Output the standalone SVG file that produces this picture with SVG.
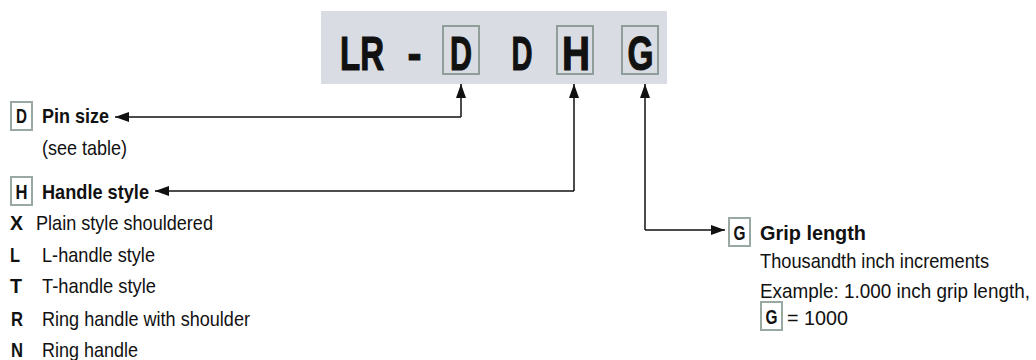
<svg xmlns="http://www.w3.org/2000/svg" width="1036" height="360" viewBox="0 0 1036 360">
<defs>
<style>
text{font-family:"Liberation Sans Narrow","Liberation Sans",Arial,sans-serif;fill:#111;}
.big{font-size:49px;font-weight:bold;stroke:#111;stroke-width:1.2;}
.b{font-size:21px;font-weight:bold;}
.r{font-size:21px;}
.box{fill:#fff;stroke:#9aa8a2;stroke-width:2;}
.bigbox{fill:none;stroke:#8f9e98;stroke-width:2;}
.wire{fill:none;stroke:#111;stroke-width:1.5;}
</style>
<marker id="ah" viewBox="0 0 14 10" refX="14" refY="5" markerWidth="14" markerHeight="10" markerUnits="userSpaceOnUse" orient="auto">
<path d="M0,0 L14,5 L0,10 Z" fill="#111"/>
</marker>
</defs>

<g id="code">
<rect x="321" y="11" width="346" height="73" fill="#d9dde3"/>
<rect class="bigbox" x="443" y="26" width="36" height="48"/>
<rect class="bigbox" x="557" y="26" width="36" height="48"/>
<rect class="bigbox" x="622" y="26" width="36" height="48"/>
<text class="big" x="340" y="70" textLength="44" lengthAdjust="spacingAndGlyphs">LR</text>
<text class="big" x="414.5" y="70" text-anchor="middle" textLength="14" lengthAdjust="spacingAndGlyphs">-</text>
<text class="big" x="461" y="70" text-anchor="middle" textLength="22" lengthAdjust="spacingAndGlyphs">D</text>
<text class="big" x="522" y="70" text-anchor="middle" textLength="21" lengthAdjust="spacingAndGlyphs">D</text>
<text class="big" x="576" y="70" text-anchor="middle" textLength="28" lengthAdjust="spacingAndGlyphs">H</text>
<text class="big" x="640.5" y="70" text-anchor="middle" textLength="26" lengthAdjust="spacingAndGlyphs">G</text>
</g>

<g id="connectors">
<path class="wire" d="M461,117 L461,84" marker-end="url(#ah)"/>
<path class="wire" d="M461,117 L115,117" marker-end="url(#ah)"/>
<path class="wire" d="M574,191 L574,84" marker-end="url(#ah)"/>
<path class="wire" d="M574,191 L155,191" marker-end="url(#ah)"/>
<path class="wire" d="M645,230 L645,84" marker-end="url(#ah)"/>
<path class="wire" d="M645,230 L725,230" marker-end="url(#ah)"/>
</g>

<g id="pin-size">
<rect class="box" x="11" y="102" width="21" height="28"/>
<text class="b" x="21.5" y="123" text-anchor="middle" textLength="11" lengthAdjust="spacingAndGlyphs">D</text>
<text class="b" x="42" y="123" textLength="67" lengthAdjust="spacingAndGlyphs">Pin size</text>
<text class="r" x="42" y="155" textLength="85" lengthAdjust="spacingAndGlyphs">(see table)</text>
</g>

<g id="handle-style">
<rect class="box" x="11" y="177" width="21" height="28"/>
<text class="b" x="21.5" y="199" text-anchor="middle" textLength="12" lengthAdjust="spacingAndGlyphs">H</text>
<text class="b" x="42" y="199" textLength="107" lengthAdjust="spacingAndGlyphs">Handle style</text>
<text class="b" x="10" y="230" textLength="13" lengthAdjust="spacingAndGlyphs">X</text>
<text class="r" x="36" y="230" textLength="177" lengthAdjust="spacingAndGlyphs">Plain style shouldered</text>
<text class="b" x="10" y="262" textLength="10" lengthAdjust="spacingAndGlyphs">L</text>
<text class="r" x="42" y="262" textLength="113" lengthAdjust="spacingAndGlyphs">L-handle style</text>
<text class="b" x="10" y="293" textLength="12" lengthAdjust="spacingAndGlyphs">T</text>
<text class="r" x="42" y="293" textLength="114" lengthAdjust="spacingAndGlyphs">T-handle style</text>
<text class="b" x="11" y="326" textLength="12" lengthAdjust="spacingAndGlyphs">R</text>
<text class="r" x="42" y="326" textLength="208" lengthAdjust="spacingAndGlyphs">Ring handle with shoulder</text>
<text class="b" x="11" y="357" textLength="12" lengthAdjust="spacingAndGlyphs">N</text>
<text class="r" x="42" y="357" textLength="96" lengthAdjust="spacingAndGlyphs">Ring handle</text>
</g>

<g id="grip-length">
<rect class="box" x="729" y="218" width="21" height="28"/>
<text class="b" x="739.5" y="240" text-anchor="middle" textLength="12" lengthAdjust="spacingAndGlyphs">G</text>
<text class="b" x="760" y="240" textLength="106" lengthAdjust="spacingAndGlyphs">Grip length</text>
<text class="r" x="760" y="268" textLength="229" lengthAdjust="spacingAndGlyphs">Thousandth inch increments</text>
<text class="r" x="0" y="0" transform="translate(760,298) scale(0.9,1)">Example: 1.000 inch grip length,</text>
<rect class="box" x="761" y="302" width="21" height="28"/>
<text class="b" x="771.5" y="324" text-anchor="middle" textLength="12" lengthAdjust="spacingAndGlyphs">G</text>
<text class="r" x="787" y="325" textLength="61" lengthAdjust="spacingAndGlyphs">= 1000</text>
</g>
</svg>
